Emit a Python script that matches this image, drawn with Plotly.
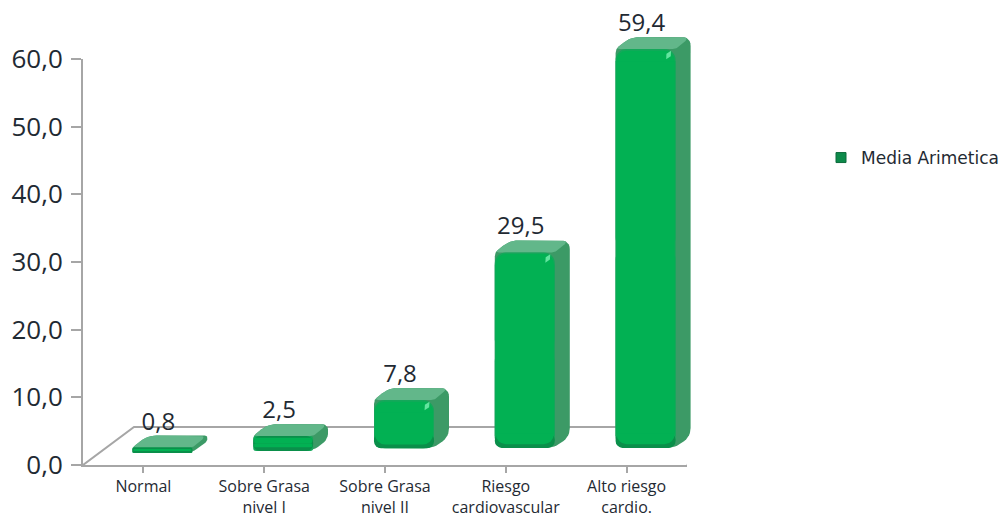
import plotly.graph_objects as go

categories = ["Normal", "Sobre Grasa<br>nivel I", "Sobre Grasa<br>nivel II", "Riesgo<br>cardiovascular", "Alto riesgo<br>cardio."]
values = [0.8, 2.5, 7.8, 29.5, 59.4]
value_labels = ["0,8", "2,5", "7,8", "29,5", "59,4"]
series_name = "Media Arimetica"

W, H = 1004, 518
AX_L, AX_R, AX_B, AX_T = 83, 687, 465, 59
PX_X = (AX_R - AX_L) / 5
PX_Y = (AX_B - AX_T) / 60
B_DX, B_B, B_SCALE = 19, 453, 6.8
DEPTH_X, DEPTH_Y = 15 / PX_X, 12 / B_SCALE
BAR_W = 60 / PX_X
FLOOR = [0.0, 0.3, 0.7, 0.75, 0.75]
TXT = "#1f2a33"
FONT = "Open Sans"


def rounded(points, radii):
    """Round polygon corners, working in pixel units, return data coords."""
    sx, sy = PX_X, B_SCALE
    out_x, out_y = [], []
    n = len(points)
    for i, (p, r) in enumerate(zip(points, radii)):
        a, b = points[i - 1], points[(i + 1) % n]
        px, py = p[0] * sx, p[1] * sy
        ax, ay = a[0] * sx - px, a[1] * sy - py
        bx, by = b[0] * sx - px, b[1] * sy - py
        la, lb = max((ax**2 + ay**2) ** .5, 1e-6), max((bx**2 + by**2) ** .5, 1e-6)
        rr = min(r, la * .48, lb * .48)
        for k in range(7):
            t = k / 6
            q0x, q0y = px + ax / la * rr, py + ay / la * rr
            q2x, q2y = px + bx / lb * rr, py + by / lb * rr
            x = (1 - t) ** 2 * q0x + 2 * t * (1 - t) * px + t * t * q2x
            y = (1 - t) ** 2 * q0y + 2 * t * (1 - t) * py + t * t * q2y
            out_x.append(x / sx)
            out_y.append(y / sy)
    return out_x + out_x[:1], out_y + out_y[:1]


fig = go.Figure()

# floor of the 3-D box, on the axis scales
fx = [-0.5, -0.5 + 51 / PX_X, 4.5 + 52 / PX_X, 4.5]
fy = [0, 38 / PX_Y, 38 / PX_Y, 0]
fig.add_trace(go.Scatter(x=fx, y=fy, mode="lines", line=dict(color="#a6a6a6", width=2),
                         cliponaxis=False, showlegend=False, hoverinfo="skip"))

# depth faces
for i, (v, fl) in enumerate(zip(values, FLOOR)):
    L, R = i - BAR_W / 2, i + BAR_W / 2
    sil = [(L, v), (L + DEPTH_X, v + DEPTH_Y), (R + DEPTH_X, v + DEPTH_Y),
           (R + DEPTH_X, fl + DEPTH_Y), (R, fl), (L, fl)]
    x, y = rounded(sil, [4, 9, 9, 8, 10, 10])
    fig.add_trace(go.Scatter(x=x, y=y, xaxis="x2", yaxis="y2", mode="lines", fill="toself",
                             fillcolor="#3c9a66", line=dict(width=0), showlegend=False,
                             hoverinfo="skip", cliponaxis=False))
    top = [(L, v), (L + DEPTH_X, v + DEPTH_Y), (R + DEPTH_X, v + DEPTH_Y), (R, v)]
    x, y = rounded(top, [4, 9, 9, 3])
    fig.add_trace(go.Scatter(x=x, y=y, xaxis="x2", yaxis="y2", mode="lines", fill="toself",
                             fillcolor="#62b78a", line=dict(width=0), showlegend=False,
                             hoverinfo="skip", cliponaxis=False))

xs = list(range(len(values)))
mids = [(v + f) / 2 for v, f in zip(values, FLOOR)]


def face(top_vals, bottom_vals, width, color, radius):
    """One bar face: an upward and a downward half (both ends rounded) and a square middle."""
    for ends in (top_vals, bottom_vals):
        fig.add_trace(go.Bar(x=xs, y=[e - m for e, m in zip(ends, mids)], base=mids, width=width,
                             xaxis="x3", yaxis="y3", showlegend=False, hoverinfo="skip",
                             marker=dict(color=color, cornerradius=radius, line=dict(width=0))))
    inset = (radius + 1) / B_SCALE
    low = [b + inset for b in bottom_vals]
    fig.add_trace(go.Bar(x=xs, y=[max(t - inset - l, 0) for t, l in zip(top_vals, low)], base=low, width=width,
                         xaxis="x3", yaxis="y3", showlegend=False, hoverinfo="skip",
                         marker=dict(color=color, line=dict(width=0))))


face(values, FLOOR, BAR_W, "#14a85a", 11)                                   # lit edge
dark_top = [min(v, f + 2.2) for v, f in zip(values, FLOOR)]
fig.add_trace(go.Bar(x=xs, y=[f - d for f, d in zip(FLOOR, dark_top)], base=dark_top, width=BAR_W,
                     xaxis="x3", yaxis="y3", showlegend=False, hoverinfo="skip",
                     marker=dict(color="#0a8f4a", cornerradius=11, line=dict(width=0))))   # dark lower edge
face([max(v - 0.25, m) for v, m in zip(values, mids)],
     [min(f + 0.55, m) for f, m in zip(FLOOR, mids)],
     BAR_W - 2 / PX_X, "#02b153", 10)                                       # main face

# highlights
hl = [(i, v) for i, v in enumerate(values) if v > 5]
fig.add_trace(go.Scatter(x=[i + BAR_W / 2 - 7 / PX_X for i, v in hl],
                         y=[v - 6 / B_SCALE for i, v in hl],
                         xaxis="x3", yaxis="y3", mode="markers",
                         marker=dict(symbol="diamond-tall", size=7, color="#63e59f", angle=30),
                         showlegend=False, hoverinfo="skip", cliponaxis=False))

# value labels
fig.add_trace(go.Scatter(x=[i - 4 / PX_X for i in xs], y=[v + DEPTH_Y for v in values],
                         xaxis="x3", yaxis="y3", mode="text", text=value_labels,
                         textposition="top center",
                         textfont=dict(family=FONT, size=24, color=TXT),
                         showlegend=False, hoverinfo="skip", cliponaxis=False))

# legend entry
fig.add_trace(go.Scatter(x=[None], y=[None], xaxis="x3", yaxis="y3", mode="markers", name=series_name,
                         marker=dict(symbol="square", size=10, color="#0d8a4a",
                                     line=dict(color="#0d6b3c", width=1)),
                         showlegend=True, hoverinfo="skip"))

hidden = dict(visible=False, fixedrange=True)
x_bar = dict(domain=[(AX_L + B_DX) / W, (AX_R + B_DX) / W], range=[-0.5, 4.5], **hidden)
y_bar = dict(domain=[(H - B_B) / H, 1], range=[0, B_B / B_SCALE], **hidden)
fig.update_layout(
    template="none",
    width=W, height=H, margin=dict(l=0, r=0, t=0, b=0), autosize=False,
    paper_bgcolor="white", plot_bgcolor="rgba(0,0,0,0)",
    separators=",.", barmode="overlay", showlegend=True,
    font=dict(family=FONT, color=TXT),
    xaxis=dict(domain=[AX_L / W, AX_R / W], range=[-0.5, 4.5], tickmode="array", tickvals=xs,
               ticktext=categories, ticks="outside", ticklen=6, tickwidth=2, tickcolor="#a6a6a6",
               showline=True, linecolor="#a6a6a6", linewidth=2, showgrid=False, zeroline=False,
               tickson="boundaries", tickangle=0, automargin=False, ticklabelstandoff=0,
               tickfont=dict(family=FONT, size=16, color=TXT)),
    yaxis=dict(domain=[(H - AX_B) / H, (H - AX_T) / H], range=[0, 60], tick0=0, dtick=10,
               tickformat=".1f", ticks="outside", ticklen=10, tickwidth=2, tickcolor="#a6a6a6",
               showline=True, linecolor="#a6a6a6", linewidth=2, showgrid=False, zeroline=False,
               automargin=False, ticklabelstandoff=3,
               tickfont=dict(family=FONT, size=26, color=TXT)),
    xaxis2=dict(anchor="y2", **x_bar), yaxis2=dict(anchor="x2", **y_bar),
    xaxis3=dict(anchor="y3", **x_bar), yaxis3=dict(anchor="x3", **y_bar),
    legend=dict(x=821 / W, y=1 - 158 / H, xanchor="left", yanchor="middle",
                font=dict(family="DejaVu Sans", size=17, color=TXT), bgcolor="rgba(0,0,0,0)"),
)
fig.write_html("out.html", config=dict(displayModeBar=False),
               post_script="document.body.style.margin='0';document.body.style.overflow='hidden';")
